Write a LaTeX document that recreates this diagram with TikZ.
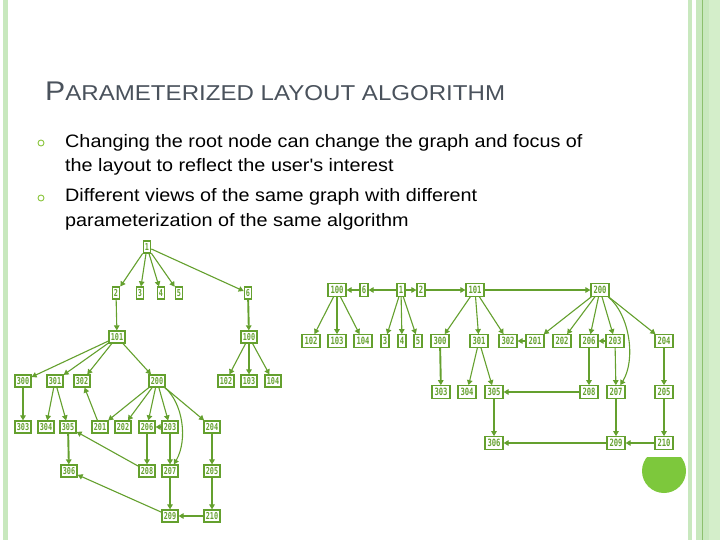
\documentclass[tikz,border=0pt]{standalone}
\usepackage{fontspec}
\setmainfont{Liberation Sans}
\newfontfamily\gfont{DejaVu Sans Mono}
\usetikzlibrary{arrows.meta}
\definecolor{gcol}{RGB}{100,160,46}
\definecolor{stripA}{RGB}{200,232,190}
\definecolor{stripB}{RGB}{212,238,202}
\definecolor{stripD}{RGB}{140,192,110}
\definecolor{circ}{RGB}{125,200,60}
\definecolor{titlecol}{RGB}{74,82,92}
\definecolor{bulcol}{RGB}{140,198,63}
\newcommand{\gtxt}[1]{\scalebox{0.72}[1]{#1}}
\begin{document}
\begin{tikzpicture}[x=1pt,y=-1pt,
  gn/.style={draw=gcol, line width=1.2pt, text=gcol, font=\gfont\bfseries\fontsize{10}{10}\selectfont, inner sep=0pt, minimum height=12.5pt, minimum width=18pt},
  gl/.style={gn, minimum height=12pt, minimum width=16pt, font=\gfont\bfseries\fontsize{9.5}{9.5}\selectfont},
  gs/.style={gn, minimum width=8pt},
  gsl/.style={gl, minimum width=7.5pt},
  ar/.style={draw=gcol, line width=1.1pt, -{Triangle[length=5pt,width=5.5pt]}},
  art/.style={ar, line width=1.9pt},
  txt/.style={anchor=base west, inner sep=0pt},
  bul/.style={circle, draw=bulcol, line width=0.9pt, minimum size=6pt, inner sep=0pt}
]
\useasboundingbox (0,0) rectangle (720,540);
\fill[white] (0,0) rectangle (720,540);
% side strips
\fill[stripA] (3,0) rectangle (8,540);
\fill[stripA] (688,0) rectangle (692,540);
\fill[stripA] (696,0) rectangle (709,540);
\fill[stripB] (709,0) rectangle (720,540);
\fill[stripD] (702,0) rectangle (703.2,540);
% green circle
\begin{scope}
\clip (630,457) rectangle (700,500);
\fill[circ] (664,471) circle[radius=22pt];
\end{scope}
% title and bullets
\node[txt, text=titlecol] (title) at (45,101) {\scalebox{1.12}[1]{\fontsize{27}{27}\selectfont P\fontsize{21.5}{21.5}\selectfont ARAMETERIZED LAYOUT ALGORITHM}};
\node[bul] (b1) at (41,143) {};
\node[bul] (b2) at (41,198) {};
\node[txt] (l1) at (65,148) {\scalebox{1.1}[1]{\fontsize{18}{18}\selectfont Changing the root node can change the graph and focus of}};
\node[txt] (l2) at (65,172) {\scalebox{1.1}[1]{\fontsize{18}{18}\selectfont the layout to reflect the user\textquotesingle s interest}};
\node[txt] (l3) at (65,202) {\scalebox{1.1}[1]{\fontsize{18}{18}\selectfont Different views of the same graph with different}};
\node[txt] (l4) at (65,226) {\scalebox{1.1}[1]{\fontsize{18}{18}\selectfont parameterization of the same algorithm}};

% ===== left graph =====
\node[gsl] (a1) at (147,247) {\gtxt{1}};
\node[gsl] (a2) at (116,293) {\gtxt{2}};
\node[gsl] (a3) at (140,293) {\gtxt{3}};
\node[gsl] (a4) at (161,293) {\gtxt{4}};
\node[gsl] (a5) at (179,293) {\gtxt{5}};
\node[gsl] (a6) at (248,293) {\gtxt{6}};
\node[gl] (a101) at (117,337) {\gtxt{101}};
\node[gl] (a100) at (249,337) {\gtxt{100}};
\node[gl] (a300) at (23,381) {\gtxt{300}};
\node[gl] (a301) at (55,381) {\gtxt{301}};
\node[gl] (a302) at (82,381) {\gtxt{302}};
\node[gl] (a200) at (157,381) {\gtxt{200}};
\node[gl] (a102) at (226,381) {\gtxt{102}};
\node[gl] (a103) at (249,381) {\gtxt{103}};
\node[gl] (a104) at (273,381) {\gtxt{104}};
\node[gl] (a303) at (23,427) {\gtxt{303}};
\node[gl] (a304) at (46,427) {\gtxt{304}};
\node[gl] (a305) at (68,427) {\gtxt{305}};
\node[gl] (a201) at (100,427) {\gtxt{201}};
\node[gl] (a202) at (123,427) {\gtxt{202}};
\node[gl] (a206) at (147,427) {\gtxt{206}};
\node[gl] (a203) at (170,427) {\gtxt{203}};
\node[gl] (a204) at (212,427) {\gtxt{204}};
\node[gl] (a306) at (69,471) {\gtxt{306}};
\node[gl] (a208) at (147,471) {\gtxt{208}};
\node[gl] (a207) at (170,471) {\gtxt{207}};
\node[gl] (a205) at (212,471) {\gtxt{205}};
\node[gl] (a209) at (170,516) {\gtxt{209}};
\node[gl] (a210) at (212,516) {\gtxt{210}};

\foreach \t in {a2,a3,a4,a5,a6} \draw[ar] (a1) -- (\t);
\draw[ar] (a2) -- (a101);
\draw[art] (a6) -- (a100);
\foreach \t in {a300,a301,a302,a200} \draw[ar] (a101) -- (\t);
\foreach \t in {a102,a103,a104} \draw[ar] (a100) -- (\t);
\draw[ar] (a300) -- (a303);
\draw[ar] (a301) -- (a304);
\draw[ar] (a301) -- (a305);
\draw[ar] (a201) -- (a302);
\foreach \t in {a201,a202,a206,a203,a204} \draw[ar] (a200) -- (\t);
\draw[ar] (a200) .. controls (183,403) and (188,440) .. (a207);
\draw[ar] (a203) -- (a206);
\draw[art] (a206) -- (a208);
\draw[ar] (a203) -- (a207);
\draw[art] (a305) -- (a306);
\draw[ar] (a208) -- (a305);
\draw[ar] (a204) -- (a205);
\draw[ar] (a205) -- (a210);
\draw[ar] (a207) -- (a209);
\draw[ar] (a210) -- (a209);
\draw[ar] (a209) -- (a306);

% ===== right graph =====
\node[gn] (b100) at (337,290) {\gtxt{100}};
\node[gs] (b6) at (364,290) {\gtxt{6}};
\node[gs] (b1n) at (401,290) {\gtxt{1}};
\node[gs] (b2n) at (421,290) {\gtxt{2}};
\node[gn] (b101) at (475,290) {\gtxt{101}};
\node[gn] (b200) at (600,290) {\gtxt{200}};
\node[gn] (b102) at (311,341) {\gtxt{102}};
\node[gn] (b103) at (337,341) {\gtxt{103}};
\node[gn] (b104) at (363,341) {\gtxt{104}};
\node[gs] (b3) at (385,341) {\gtxt{3}};
\node[gs] (b4) at (402,341) {\gtxt{4}};
\node[gs] (b5) at (418,341) {\gtxt{5}};
\node[gn] (b300) at (440,341) {\gtxt{300}};
\node[gn] (b301) at (479,341) {\gtxt{301}};
\node[gn] (b302) at (508,341) {\gtxt{302}};
\node[gn] (b201) at (535,341) {\gtxt{201}};
\node[gn] (b202) at (562,341) {\gtxt{202}};
\node[gn] (b206) at (589,341) {\gtxt{206}};
\node[gn] (b203) at (615,341) {\gtxt{203}};
\node[gn] (b204) at (664,341) {\gtxt{204}};
\node[gn] (b303) at (441,392) {\gtxt{303}};
\node[gn] (b304) at (467,392) {\gtxt{304}};
\node[gn] (b305) at (494,392) {\gtxt{305}};
\node[gn] (b208) at (589,392) {\gtxt{208}};
\node[gn] (b207) at (616,392) {\gtxt{207}};
\node[gn] (b205) at (664,392) {\gtxt{205}};
\node[gn] (b306) at (494,443) {\gtxt{306}};
\node[gn] (b209) at (616,443) {\gtxt{209}};
\node[gn] (b210) at (664,443) {\gtxt{210}};

\draw[ar] (b1n) -- (b6);
\draw[ar] (b6) -- (b100);
\draw[ar] (b1n) -- (b2n);
\draw[ar] (b2n) -- (b101);
\draw[ar] (b101) -- (b200);
\foreach \t in {b102,b103,b104} \draw[ar] (b100) -- (\t);
\foreach \t in {b3,b4,b5} \draw[ar] (b1n) -- (\t);
\foreach \t in {b300,b301,b302} \draw[ar] (b101) -- (\t);
\draw[art] (b300) -- (b303);
\draw[ar] (b301) -- (b304);
\draw[ar] (b301) -- (b305);
\draw[ar] (b305) -- (b306);
\draw[ar] (b201) -- (b302);
\foreach \t in {b201,b202,b206,b203,b204} \draw[ar] (b200) -- (\t);
\draw[ar] (b200) .. controls (630,315) and (636,360) .. (b207);
\draw[ar] (b203) -- (b206);
\draw[ar] (b206) -- (b208);
\draw[ar] (b203) -- (b207);
\draw[ar] (b204) -- (b205);
\draw[ar] (b205) -- (b210);
\draw[ar] (b207) -- (b209);
\draw[ar] (b210) -- (b209);
\draw[ar] (b208) -- (b305);
\draw[ar] (b209) -- (b306);
\end{tikzpicture}
\end{document}
